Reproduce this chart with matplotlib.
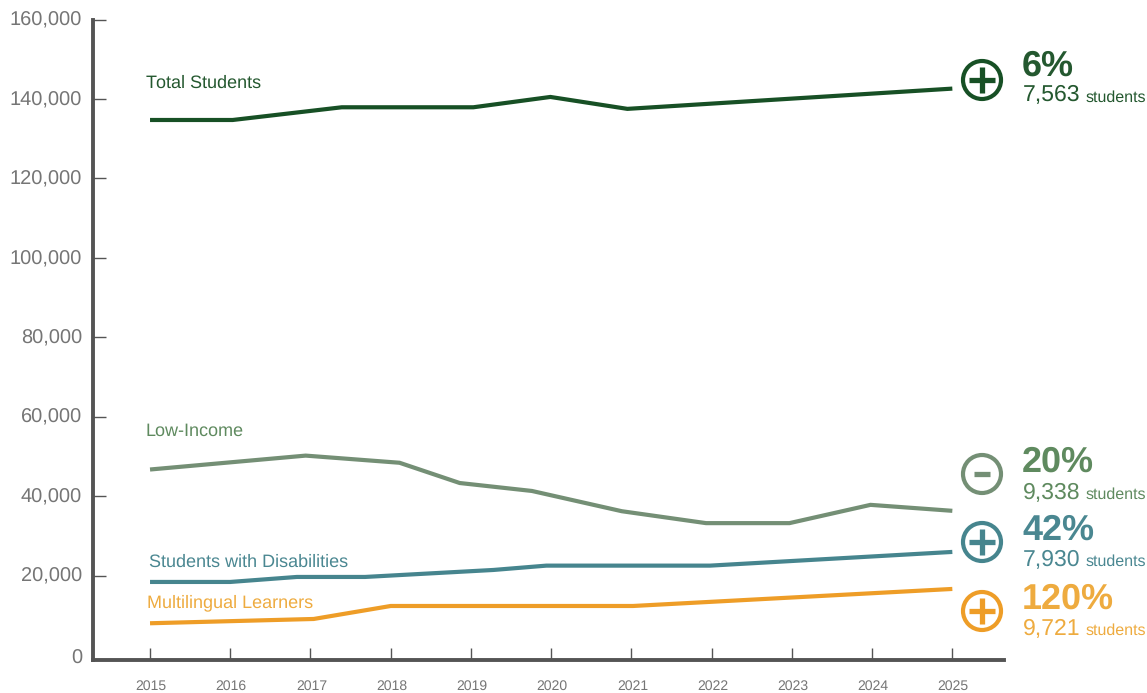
import matplotlib
matplotlib.use("Agg")
import matplotlib.pyplot as plt
from matplotlib.lines import Line2D
from matplotlib.patches import Circle
from matplotlib.transforms import IdentityTransform, ScaledTranslation

WIDTH = 1147
HEIGHT = 693

# Enrollment counts. The turning points do not all fall on whole years.
total_years = [2015, 2016.03, 2017.39, 2019.03, 2019.99, 2020.95, 2025]
total_values = [134700, 134700, 137900, 137900, 140500, 137500, 142600]

low_income_years = [2015, 2016.94, 2018.11, 2018.86, 2019.76, 2020.88, 2021.93, 2022.97, 2023.98, 2025]
low_income_values = [46700, 50200, 48400, 43300, 41300, 36200, 33200, 33200, 37800, 36300]

disability_years = [2015, 2016.0, 2016.83, 2017.68, 2019.28, 2019.94, 2021.98, 2025]
disability_values = [18390, 18390, 19650, 19650, 21410, 22500, 22500, 25950]

multilingual_years = [2015, 2017.04, 2018.0, 2021.02, 2025]
multilingual_values = [7990, 9070, 12340, 12340, 16630]

year_ticks = list(range(2015, 2026))
value_ticks = list(range(0, 160001, 20000))

plt.rcParams["font.family"] = ["Liberation Sans", "DejaVu Sans"]
plt.rcParams["text.hinting"] = "no_hinting"
plt.rcParams["text.hinting_factor"] = 1

GRAY = "#757575"
AXIS = "#545454"

# name, line colour, text colour, years, values, name position, sign, percent, students
# the y numbers are pixel rows measured from the top of the figure
series = [
    ("Total Students", "#175025", "#24582f", total_years, total_values, (146.5, 88),
     "+", "6%", "7,563", 80, 76, 101.5),
    ("Low-Income", "#748f75", "#5f8a5f", low_income_years, low_income_values, (146, 436),
     "-", "20%", "9,338", 474, 472, 499),
    ("Students with Disabilities", "#46858e", "#4a8791", disability_years, disability_values, (149, 567),
     "+", "42%", "7,930", 542, 539.5, 566),
    ("Multilingual Learners", "#ee9d27", "#eeab3f", multilingual_years, multilingual_values, (147, 607),
     "+", "120%", "9,721", 611, 609, 635),
]


def fx(x):
    return x / WIDTH


def fy(y):
    return 1 - y / HEIGHT


fig = plt.figure(figsize=(WIDTH / 100, HEIGHT / 100), dpi=100)
ax = fig.add_axes([fx(92.5), fy(659.5), (1004 - 92.5) / WIDTH, (659.5 - 19.5) / HEIGHT])
ax.set_xlim(2014.283, 2025.644)
ax.set_ylim(-1134, 160000)

for spine in ["top", "right"]:
    ax.spines[spine].set_visible(False)
for spine in ["left", "bottom"]:
    ax.spines[spine].set_linewidth(2.8)
    ax.spines[spine].set_color(AXIS)

ax.set_xticks(year_ticks)
ax.set_xticklabels([str(y) for y in year_ticks])
ax.set_yticks(value_ticks)
ax.set_yticklabels([f"{v:,}" for v in value_ticks])
ax.tick_params(axis="x", direction="in", length=9, width=1, color=AXIS, labelsize=10, labelcolor=GRAY, pad=14.5)
ax.tick_params(axis="y", direction="in", length=9, width=1, color=AXIS, labelsize=14.7, labelcolor=GRAY, pad=7.5)

# the zero tick sits on the bottom axis line, so it is not drawn separately
ax.yaxis.get_major_ticks()[0].tick1line.set_visible(False)

# nudge the value labels against their ticks; the zero label goes below its tick
for i, label in enumerate(ax.get_yticklabels()):
    shift = -2 if i == 0 else 1
    label.set_transform(label.get_transform() + ScaledTranslation(0, shift / 100, fig.dpi_scale_trans))
for label in ax.get_xticklabels():
    label.set_transform(label.get_transform() + ScaledTranslation(1 / 100, 0, fig.dpi_scale_trans))

for name, line_color, text_color, years, values, name_pos, sign, pct, students, cy, pct_y, num_y in series:
    ax.plot(years, values, color=line_color, linewidth=3.0, solid_capstyle="butt", solid_joinstyle="miter")

    fig.text(fx(name_pos[0]), fy(name_pos[1]), name, color=text_color, fontsize=13.0, va="baseline")

    # circled plus or minus, drawn in pixel units
    cx = 982
    cy_px = HEIGHT - cy
    fig.add_artist(Circle((cx, cy_px), 19, fill=False, edgecolor=line_color, linewidth=3.0,
                          transform=IdentityTransform()))
    arm = 13 if sign == "+" else 8
    fig.add_artist(Line2D([cx - arm, cx + arm], [cy_px, cy_px], color=line_color, linewidth=3.8,
                          solid_capstyle="butt", transform=IdentityTransform()))
    if sign == "+":
        fig.add_artist(Line2D([cx, cx], [cy_px - arm, cy_px + arm], color=line_color, linewidth=3.8,
                              solid_capstyle="butt", transform=IdentityTransform()))

    fig.text(fx(1022), fy(pct_y), pct, color=text_color, fontsize=26, fontweight="bold", va="baseline")
    fig.text(fx(1023), fy(num_y), students, color=text_color, fontsize=16.3, va="baseline")
    fig.text(fx(1086), fy(num_y), "students", color=text_color, fontsize=11.8, va="baseline")

fig.savefig("out.png", dpi=100)
plt.close(fig)
